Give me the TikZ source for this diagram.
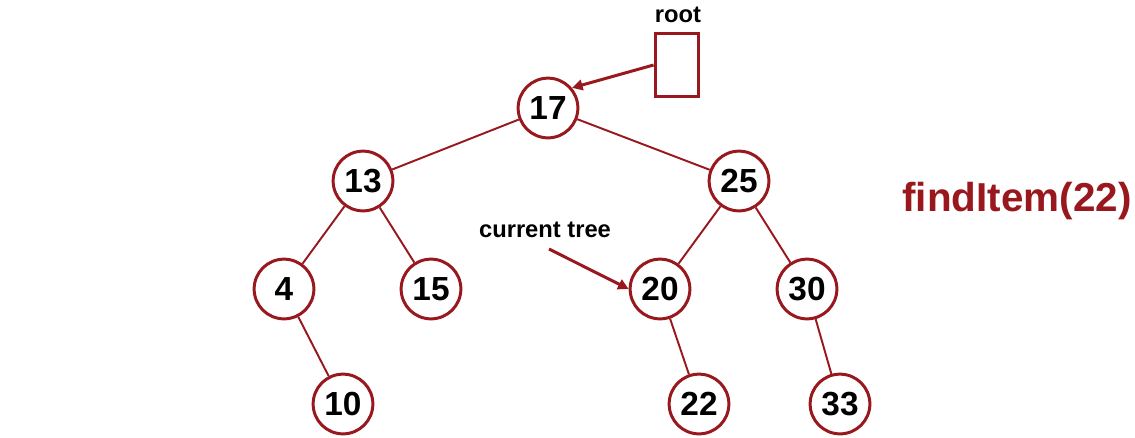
\documentclass[tikz,border=0pt]{standalone}
\usepackage{fontspec}
\setmainfont{Liberation Sans}
\usepackage{xcolor}
\usetikzlibrary{arrows.meta,positioning}
\definecolor{treered}{RGB}{152,24,30}

\begin{document}
\begin{tikzpicture}[x=0.02cm, y=-0.02cm, font=\bfseries]
        \tikzset{
            vertex/.style={circle, draw=treered, line width=1.7pt, fill=white, minimum size=34pt, inner sep=0pt, font=\fontsize{19}{19}\selectfont\bfseries},
            edge/.style={draw=treered, line width=1.1pt},
            arr/.style={-{Triangle[length=6pt, width=6pt]}, draw=treered, fill=treered, line width=1.7pt},
            lbl/.style={font=\fontsize{13.5}{15}\selectfont\bfseries}
        }
        \useasboundingbox (0,0) rectangle (1135,437);

        \node[vertex] (n17) at (548,108) {17};
        \node[vertex] (n13) at (363,181) {13};
        \node[vertex] (n25) at (739,181) {25};
        \node[vertex] (n4) at (284,289) {4};
        \node[vertex] (n15) at (431,289) {15};
        \node[vertex] (n20) at (660,289) {20};
        \node[vertex] (n30) at (807,289) {30};
        \node[vertex] (n10) at (343,404) {10};
        \node[vertex] (n22) at (699,404) {22};
        \node[vertex] (n33) at (840,404) {33};

        \draw[edge] (n17) -- (n13);
        \draw[edge] (n17) -- (n25);
        \draw[edge] (n13) -- (n4);
        \draw[edge] (n13) -- (n15);
        \draw[edge] (n25) -- (n20);
        \draw[edge] (n25) -- (n30);
        \draw[edge] (n4) -- (n10);
        \draw[edge] (n20) -- (n22);
        \draw[edge] (n30) -- (n33);

        % root pointer
        \node[draw=treered, line width=1.7pt, minimum width=25pt, minimum height=36pt, inner sep=0pt] (rootbox) at (677,65) {};
        \node[lbl] (rootlbl) at (678,15) {root};
        \draw[arr] (rootbox.west) -- (n17.40);

        % current tree pointer
        \node[lbl] (curlbl) at (545,230) {current tree};
        \coordinate (curtail) at (549,249);
        \draw[arr] (curtail) -- (n20.west);

        \node[text=treered, font=\fontsize{23}{27}\selectfont\bfseries] (call) at (1017,201) {findItem(22)};
    \end{tikzpicture}
\end{document}
